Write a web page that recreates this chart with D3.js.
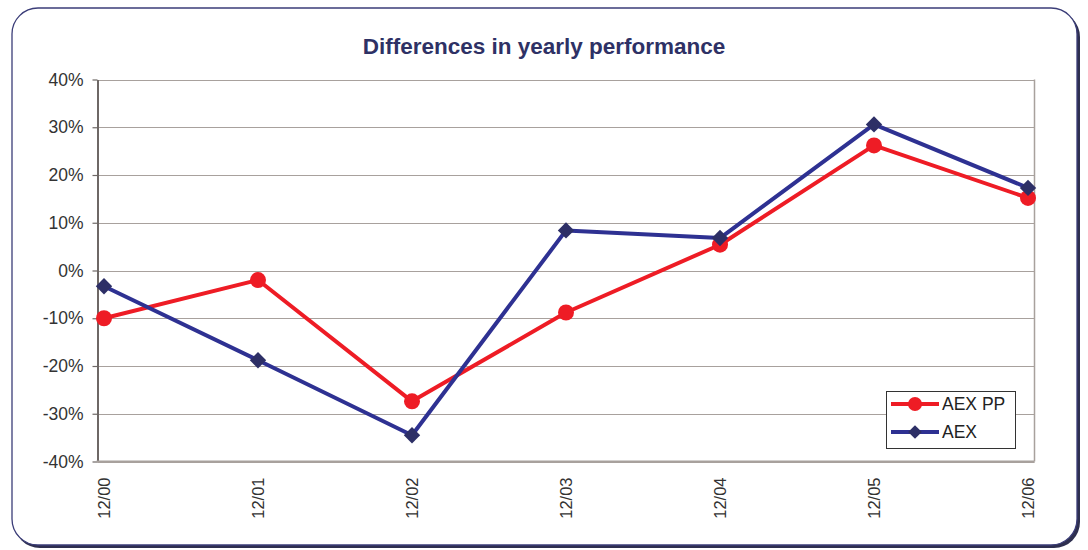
<!DOCTYPE html>
<html><head><meta charset="utf-8">
<script src="https://cdn.jsdelivr.net/npm/d3@7"></script>
<style>
body{margin:0;background:#fff;}
text{font-family:"Liberation Sans",Arial,sans-serif;}
</style></head>
<body>
<svg id="c" width="1088" height="550"></svg>
<script>
const categories = ["12/00","12/01","12/02","12/03","12/04","12/05","12/06"];
const aexPP = [-10.0, -2.0, -27.4, -8.8, 5.4, 26.2, 15.2];
const aex = [-3.3, -18.8, -34.5, 8.4, 6.8, 30.6, 17.3];
const yTicks = [-40,-30,-20,-10,0,10,20,30,40];
const seriesNames = ["AEX PP","AEX"];

const svg = d3.select("#c");
// outer frame with shadow on right/bottom
svg.append("rect").attr("x",14).attr("y",11).attr("width",1066).attr("height",537)
  .attr("rx",26).attr("fill","#2e2f4f");
svg.append("rect").attr("x",12).attr("y",8).attr("width",1065).attr("height",537)
  .attr("rx",26).attr("fill","#fff").attr("stroke","#3b3d78").attr("stroke-width",1.3);

const L=97.5, R=1034.5, T=79.5, B=461.5;
const x = d3.scalePoint().domain(categories).range([104,1028]);
const y = d3.scaleLinear().domain([-40,40]).range([B,T]);

// gridlines
svg.append("g").selectAll("line").data(yTicks).join("line")
  .attr("x1",L).attr("x2",R).attr("y1",d=>Math.round(y(d))+0.5).attr("y2",d=>Math.round(y(d))+0.5)
  .attr("stroke","#a8a19d").attr("stroke-width",1.2);
// right border
svg.append("line").attr("x1",R).attr("x2",R).attr("y1",T).attr("y2",B).attr("stroke","#a8a19d").attr("stroke-width",1.5);

// y axis
const yAxis = d3.axisLeft(y).tickValues(yTicks).tickFormat(d=>d+"%").tickSize(5).tickSizeOuter(0);
const gy = svg.append("g").attr("transform",`translate(${L},0)`).call(yAxis);
gy.select(".domain").attr("stroke","#6e6866").attr("stroke-width",2);
gy.selectAll(".tick line").attr("stroke","#6e6866").attr("stroke-width",1.2);
gy.selectAll(".tick text").attr("font-size",17.5).attr("fill","#333").attr("x",-14).attr("font-family","Liberation Sans, Arial, sans-serif");

// x axis
const xAxis = d3.axisBottom(x).tickSize(0).tickSizeOuter(0);
const gx = svg.append("g").attr("transform",`translate(0,${B})`).call(xAxis);
gx.select(".domain").remove();
gx.selectAll(".tick text").attr("font-size",16.5).attr("fill","#333")
  .attr("font-family","Liberation Sans, Arial, sans-serif")
  .attr("transform","rotate(-90)").attr("text-anchor","end").attr("x",-16).attr("y",0).attr("dy","0.35em").attr("dx",0);
// bottom axis line
svg.append("line").attr("x1",L-1).attr("x2",R).attr("y1",B).attr("y2",B).attr("stroke","#a8a19d").attr("stroke-width",2);

const line = d3.line().x((d,i)=>x(categories[i])).y(d=>y(d));
const red="#ee1c25", blue="#2e3192", dia="#2d2f66";

svg.append("path").datum(aexPP).attr("d",line).attr("fill","none").attr("stroke",red).attr("stroke-width",4).attr("stroke-linejoin","round");
svg.append("path").datum(aex).attr("d",line).attr("fill","none").attr("stroke",blue).attr("stroke-width",4).attr("stroke-linejoin","round");

svg.append("g").selectAll("circle").data(aexPP).join("circle")
  .attr("cx",(d,i)=>x(categories[i])).attr("cy",d=>y(d)).attr("r",8).attr("fill",red);
const diamond = d3.symbol().type(d3.symbolDiamond2).size(170);
svg.append("g").selectAll("path").data(aex).join("path")
  .attr("d",diamond).attr("transform",(d,i)=>`translate(${x(categories[i])},${y(d)})`).attr("fill",dia);

// legend
const lg = svg.append("g");
lg.append("rect").attr("x",886.5).attr("y",391.5).attr("width",129).attr("height",57).attr("fill","#fff").attr("stroke","#333").attr("stroke-width",1);
const rows=[{n:seriesNames[0],c:red,t:"c",yy:404},{n:seriesNames[1],c:blue,t:"d",yy:432}];
rows.forEach(r=>{
  lg.append("line").attr("x1",891).attr("x2",939).attr("y1",r.yy).attr("y2",r.yy).attr("stroke",r.c).attr("stroke-width",4);
  if(r.t==="c") lg.append("circle").attr("cx",915).attr("cy",r.yy).attr("r",7).attr("fill",red);
  else lg.append("path").attr("d",d3.symbol().type(d3.symbolDiamond2).size(120)).attr("transform",`translate(915,${r.yy})`).attr("fill",dia);
  lg.append("text").attr("x",942).attr("y",r.yy).attr("dy","0.36em").attr("font-size",17.5).attr("fill","#222").text(r.n);
});

// title
svg.append("text").attr("x",544).attr("y",46).attr("dy","0.35em").attr("text-anchor","middle")
  .attr("font-size",22.5).attr("font-weight","bold").attr("fill","#2e3165").text("Differences in yearly performance");
</script>
</body></html>
